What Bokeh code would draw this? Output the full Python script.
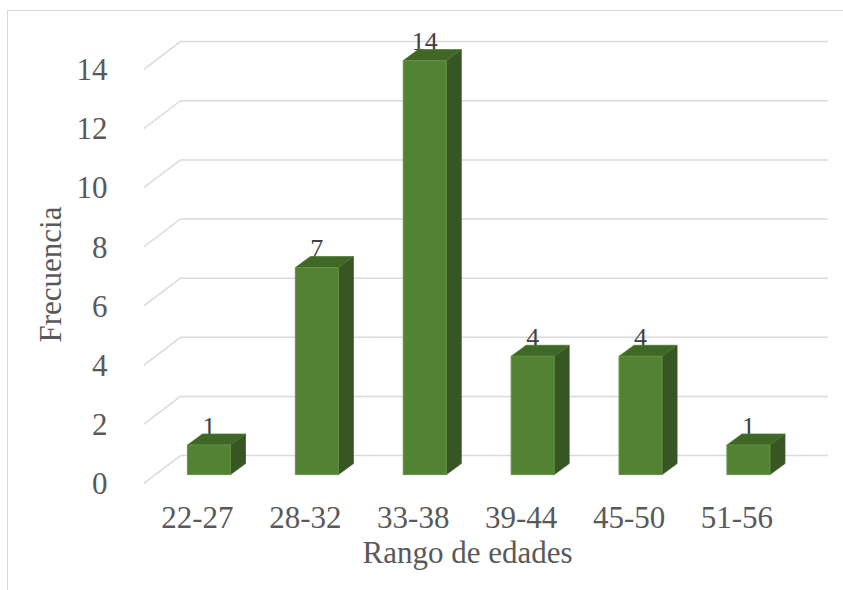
from bokeh.plotting import figure
from bokeh.models import FixedTicker, Range1d, Title
from bokeh.core.properties import value
from bokeh.embed import file_html
from bokeh.resources import INLINE

# Age ranges and how many people fall in each
categories = ["22-27", "28-32", "33-38", "39-44", "45-50", "51-56"]
counts = [1, 7, 14, 4, 4, 1]
y_ticks = [0, 2, 4, 6, 8, 10, 12, 14]
x_title = "Rango de edades"
y_title = "Frecuencia"

# Layout: pixel sizes used to fake the 3-D box
W, H = 843, 590
LEFT, RIGHT, TOP, BOTTOM = 143, 13, 25, 101
PX_CAT = 107.9     # pixels per category on the floor front edge
PX_UNIT = 29.57    # pixels per count unit
FLOOR_DX, FLOOR_DY = 37, 28     # depth of the wall (front edge -> back wall)
BAR_DX, BAR_DY = 15, 11         # depth of each bar
BAR_SHIFT_X, BAR_SHIFT_Y = 11.5, 9  # bar front face relative to floor front
BAR_W = 43
LABEL_GAP = 19
BORDER = "#d9d9d9"

frame_w = W - LEFT - RIGHT
frame_h = H - TOP - BOTTOM
x0, y0 = -0.5, -0.2
x_range = Range1d(x0, x0 + frame_w / PX_CAT)
y_range = Range1d(y0, y0 + frame_h / PX_UNIT)

def ux(px):
    return px / PX_CAT

def uy(px):
    return px / PX_UNIT

# chart-area border (left and top edges) painted behind a transparent canvas
border_css = (
    f"linear-gradient({BORDER},{BORDER}) 7px 10px / {W}px 1px no-repeat, "
    f"linear-gradient({BORDER},{BORDER}) 7px 10px / 1px {H}px no-repeat, #ffffff"
)

p = figure(width=W, height=H, x_range=x_range, y_range=y_range,
           output_backend="svg", toolbar_location=None,
           min_border_left=LEFT, min_border_right=RIGHT,
           min_border_top=TOP, min_border_bottom=BOTTOM,
           styles={"background": border_css})
p.outline_line_color = None
p.background_fill_color = None
p.border_fill_color = None
p.xgrid.visible = False
p.ygrid.visible = False

FONT = "Liberation Serif"
TXT = "#595959"

# Axes
n = len(categories)
p.yaxis.ticker = FixedTicker(ticks=y_ticks)
p.xaxis.ticker = FixedTicker(ticks=list(range(n)))
p.xaxis.major_label_overrides = {i: c for i, c in enumerate(categories)}
for ax in (p.xaxis, p.yaxis):
    ax.axis_line_color = None
    ax.major_tick_line_color = None
    ax.minor_tick_line_color = None
    ax.major_label_text_font = FONT
    ax.major_label_text_font_size = "31px"
    ax.major_label_text_color = TXT
p.yaxis.major_label_standoff = 30
p.xaxis.major_label_standoff = 11

# Axis titles, placed along the floor rather than the whole frame
title_style = dict(text_font=FONT, text_font_size="31px", text_font_style="normal",
                   text_color=TXT, align="left")
p.add_layout(Title(text=x_title, offset=219, standoff=4, **title_style), "below")
p.add_layout(Title(text=y_title, offset=147, standoff=12, **title_style), "left")

# Gridlines: short diagonal on the side wall, then across the back wall
gx, gy = [], []
for t in y_ticks:
    gx.append([x0, x0 + ux(FLOOR_DX), x0 + ux(FLOOR_DX) + n])
    gy.append([t, t + uy(FLOOR_DY), t + uy(FLOOR_DY)])
p.multi_line(gx, gy, line_color="#dadada", line_width=1.5)

# Value labels (drawn first so the bar tops sit over them)
sx, sy = ux(BAR_SHIFT_X), uy(BAR_SHIFT_Y)
lab_x = [i + sx for i in range(n)]
lab_y = [c + sy + uy(LABEL_GAP) for c in counts]
p.text(lab_x, lab_y, text=[str(c) for c in counts],
       text_font=value(FONT), text_font_size="26px", text_color="#404040",
       text_align="center", text_baseline="alphabetic")

# Bars: front face, right side and top
hw = ux(BAR_W) / 2
dx, dy = ux(BAR_DX), uy(BAR_DY)
side_xs, side_ys, top_xs, top_ys = [], [], [], []
lefts, rights, bottoms, tops = [], [], [], []
for i, c in enumerate(counts):
    L, R = i + sx - hw, i + sx + hw
    b, t = sy, c + sy
    lefts.append(L); rights.append(R); bottoms.append(b); tops.append(t)
    side_xs.append([R, R + dx, R + dx, R])
    side_ys.append([b, b + dy, t + dy, t])
    top_xs.append([L, L + dx, R + dx, R])
    top_ys.append([t, t + dy, t + dy, t])

p.patches(side_xs, side_ys, fill_color="#375623", line_color="#375623", line_width=0.8)
p.patches(top_xs, top_ys, fill_color="#3f6827", line_color="#4a7a30", line_width=0.8)
p.quad(left=lefts, right=rights, bottom=bottoms, top=tops,
       fill_color="#548235", line_color="#62923f", line_width=1)

open("out.html", "w").write(file_html(p, INLINE))
